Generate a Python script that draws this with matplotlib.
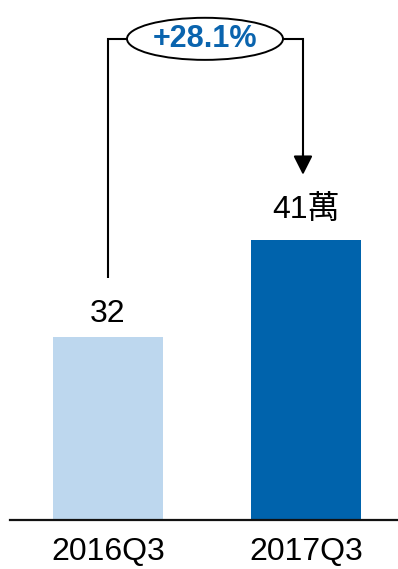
import matplotlib
matplotlib.use("Agg")
import matplotlib.pyplot as plt
from matplotlib.patches import Ellipse

categories = ["2016Q3", "2017Q3"]
values = [32, 41]
value_labels = ["32", "41萬"]
growth_label = "+28.1%"
colors = ["#BDD7EE", "#0063AC"]

FONT = ["Liberation Sans", "Noto Sans CJK TC", "DejaVu Sans"]
plt.rcParams["font.family"] = FONT

fig = plt.figure(figsize=(3.98, 5.69), dpi=100)
ax = fig.add_axes([10 / 398, 49 / 569, 388 / 398, 520 / 569])

x = list(range(len(categories)))
ax.bar(x, values, width=0.556, color=colors, zorder=2)
ax.set_xlim(-0.495, 1.465)
ax.set_ylim(15, 63.2)

for s in ["top", "right", "left"]:
    ax.spines[s].set_visible(False)
ax.spines["bottom"].set_linewidth(1.6)
ax.spines["bottom"].set_color("#111111")
ax.set_yticks([])
ax.set_xticks(x)
ax.set_xticklabels(categories, fontsize=23)
ax.tick_params(axis="x", length=0, pad=12)

label_offsets = [15 * 0.72, 22 * 0.72]
for xi, v, lab, off in zip(x, values, value_labels, label_offsets):
    ax.annotate(lab, (xi, v), xytext=(0, off), textcoords="offset points",
                ha="center", va="baseline", fontsize=23)

# growth bracket
left_bottom = values[0] + 5.4
tip = values[1] + 6.0
top = max(values) + 18.6
ell_cx = 0.49
ell_w = 0.788
ell_h = 3.9
lw = 1.5
ax.plot([x[0], x[0], ell_cx - ell_w / 2], [left_bottom, top, top], color="black", lw=lw,
        solid_capstyle="butt", solid_joinstyle="miter")
ax.plot([ell_cx + ell_w / 2, x[1] - 0.015, x[1] - 0.015], [top, top, tip + 1.5], color="black",
        lw=lw, solid_capstyle="butt", solid_joinstyle="miter")
ax.annotate("", xy=(x[1] - 0.015, tip), xytext=(x[1] - 0.015, tip + 2),
            arrowprops=dict(arrowstyle="-|>,head_length=1.15,head_width=0.58",
                            mutation_scale=10, color="black", lw=lw, shrinkA=0, shrinkB=0))
ax.add_patch(Ellipse((ell_cx, top), ell_w, ell_h, facecolor="white", edgecolor="black",
                     lw=1.4, zorder=3))
ax.text(ell_cx, top, growth_label, ha="center", va="center", fontsize=22,
        fontweight="bold", color="#0A64AE", zorder=4)

fig.savefig("out.png", dpi=100)
